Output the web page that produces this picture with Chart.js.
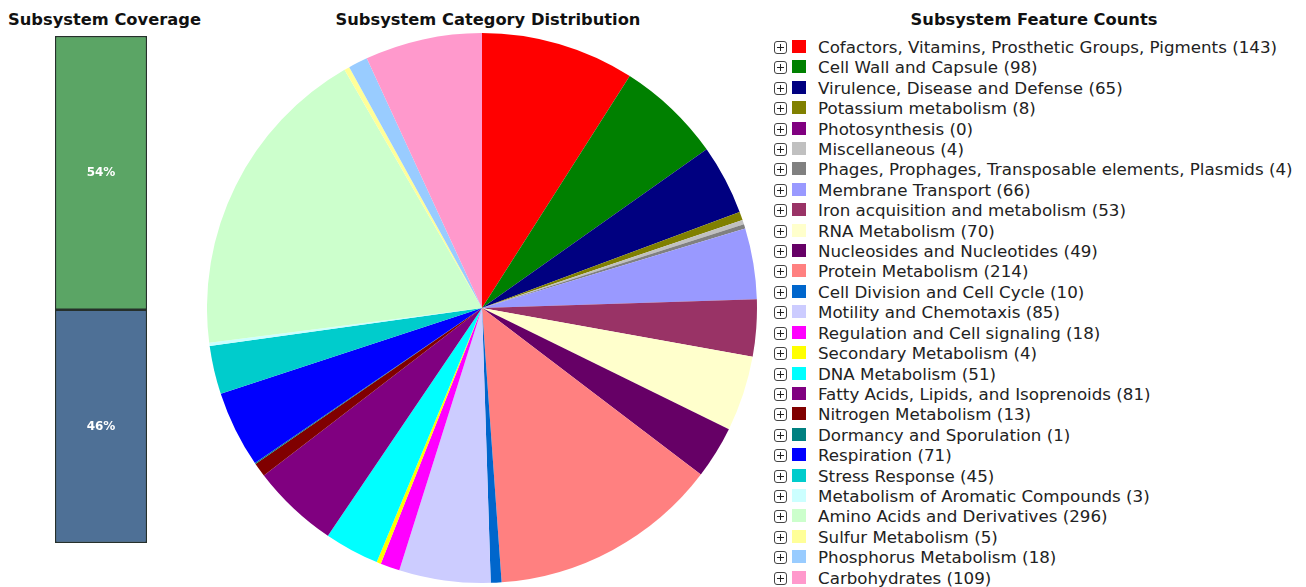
<!DOCTYPE html>
<html>
<head>
<meta charset="utf-8">
<title>Subsystem Summary</title>
<script src="https://cdn.jsdelivr.net/npm/chart.js"></script>
<style>
  body { margin: 0; background: #fff; font-family: "DejaVu Sans", Verdana, sans-serif; }
  #page { position: relative; width: 1306px; height: 587px; overflow: hidden; }
  .title { position: absolute; top: 10px; font-weight: bold; font-size: 16.3px; color: #111; white-space: nowrap; }
  #cov-title { left: 8px; }
  #pie-title { left: 488px; transform: translateX(-50%); }
  #leg-title { left: 1034px; transform: translateX(-50%); }
  #cov-chart { position: absolute; left: 55px; top: 36px; }
  #pie-chart { position: absolute; left: 207px; top: 33px; }
  #legend { position: absolute; left: 774px; top: 37px; font-size: 16.7px; color: #222; }
  .row { height: 20.42px; line-height: 20.42px; white-space: nowrap; position: relative; }
  .plus { position: absolute; left: 0; top: 4px; width: 11px; height: 11px; border: 1px solid #444; border-radius: 3px; }
  .plus:before { content: ''; position: absolute; left: 2px; top: 5px; width: 7px; height: 1px; background: #222; }
  .plus:after { content: ''; position: absolute; left: 5px; top: 2px; width: 1px; height: 7px; background: #222; }
  .swatch { position: absolute; left: 18px; top: 3px; width: 14px; height: 13px; }
  .label { position: absolute; left: 44px; top: 0; }
</style>
</head>
<body>
<div id="page">
  <div class="title" id="cov-title">Subsystem Coverage</div>
  <div class="title" id="pie-title">Subsystem Category Distribution</div>
  <div class="title" id="leg-title">Subsystem Feature Counts</div>
  <canvas id="cov-chart" width="92" height="507"></canvas>
  <canvas id="pie-chart" width="550" height="550"></canvas>
  <div id="legend"></div>
</div>
<script>
// coverage bar (bottom to top)
var coverageLabels = ['Not in subsystem', 'In subsystem'];
var coverageValues = [46, 54];
var coverageColors = ['#4e7096', '#5ba565'];

// subsystem categories, in legend order
var categories = [
  'Cofactors, Vitamins, Prosthetic Groups, Pigments',
  'Cell Wall and Capsule',
  'Virulence, Disease and Defense',
  'Potassium metabolism',
  'Photosynthesis',
  'Miscellaneous',
  'Phages, Prophages, Transposable elements, Plasmids',
  'Membrane Transport',
  'Iron acquisition and metabolism',
  'RNA Metabolism',
  'Nucleosides and Nucleotides',
  'Protein Metabolism',
  'Cell Division and Cell Cycle',
  'Motility and Chemotaxis',
  'Regulation and Cell signaling',
  'Secondary Metabolism',
  'DNA Metabolism',
  'Fatty Acids, Lipids, and Isoprenoids',
  'Nitrogen Metabolism',
  'Dormancy and Sporulation',
  'Respiration',
  'Stress Response',
  'Metabolism of Aromatic Compounds',
  'Amino Acids and Derivatives',
  'Sulfur Metabolism',
  'Phosphorus Metabolism',
  'Carbohydrates'
];
var featureCounts = [143, 98, 65, 8, 0, 4, 4, 66, 53, 70, 49, 214, 10, 85, 18, 4, 51, 81, 13, 1, 71, 45, 3, 296, 5, 18, 109];
var categoryColors = [
  '#ff0000', '#008000', '#000080', '#808000', '#800080', '#c0c0c0', '#808080',
  '#9999ff', '#993366', '#ffffcc', '#660066', '#ff8080', '#0066cc', '#ccccff',
  '#ff00ff', '#ffff00', '#00ffff', '#800080', '#800000', '#008080', '#0000ff',
  '#00cccc', '#ccffff', '#ccffcc', '#ffff99', '#99ccff', '#ff99cc'
];

Chart.defaults.animation = false;
Chart.defaults.font.family = '"DejaVu Sans", Verdana, sans-serif';

// writes the percent inside each bar segment
var percentLabels = {
  id: 'percentLabels',
  afterDatasetsDraw: function(chart) {
    var ctx = chart.ctx;
    ctx.save();
    ctx.font = 'bold 12px "DejaVu Sans", Verdana, sans-serif';
    ctx.fillStyle = '#ffffff';
    ctx.textAlign = 'center';
    ctx.textBaseline = 'middle';
    chart.data.datasets.forEach(function(ds, i) {
      var bar = chart.getDatasetMeta(i).data[0];
      var p = bar.getCenterPoint();
      ctx.fillText(ds.data[0] + '%', p.x, p.y);
    });
    ctx.restore();
  }
};

var covSets = [];
for (var i = 0; i < coverageValues.length; i++) {
  covSets.push({
    label: coverageLabels[i],
    data: [coverageValues[i]],
    backgroundColor: coverageColors[i],
    borderColor: '#26302b',
    borderWidth: 1.5,
    borderSkipped: false,
    barPercentage: 1,
    categoryPercentage: 1
  });
}

new Chart(document.getElementById('cov-chart'), {
  type: 'bar',
  data: { labels: ['Coverage'], datasets: covSets },
  options: {
    responsive: false,
    devicePixelRatio: 1,
    layout: { padding: 0 },
    plugins: { legend: { display: false }, tooltip: { enabled: false } },
    scales: {
      x: { stacked: true, display: false },
      y: { stacked: true, display: false, min: 0, max: 100 }
    }
  },
  plugins: [percentLabels]
});

new Chart(document.getElementById('pie-chart'), {
  type: 'pie',
  data: {
    labels: categories,
    datasets: [{
      data: featureCounts,
      backgroundColor: categoryColors,
      borderWidth: 0
    }]
  },
  options: {
    responsive: false,
    devicePixelRatio: 1,
    layout: { padding: 0 },
    plugins: { legend: { display: false }, tooltip: { enabled: false } }
  }
});

// legend list with expand boxes
var legendEl = document.getElementById('legend');
for (var q = 0; q < categories.length; q++) {
  var row = document.createElement('div');
  row.className = 'row';
  row.innerHTML = '<span class="plus"></span>' +
    '<span class="swatch" style="background:' + categoryColors[q] + '"></span>' +
    '<span class="label">' + categories[q] + ' (' + featureCounts[q] + ')</span>';
  legendEl.appendChild(row);
}
</script>
</body>
</html>
